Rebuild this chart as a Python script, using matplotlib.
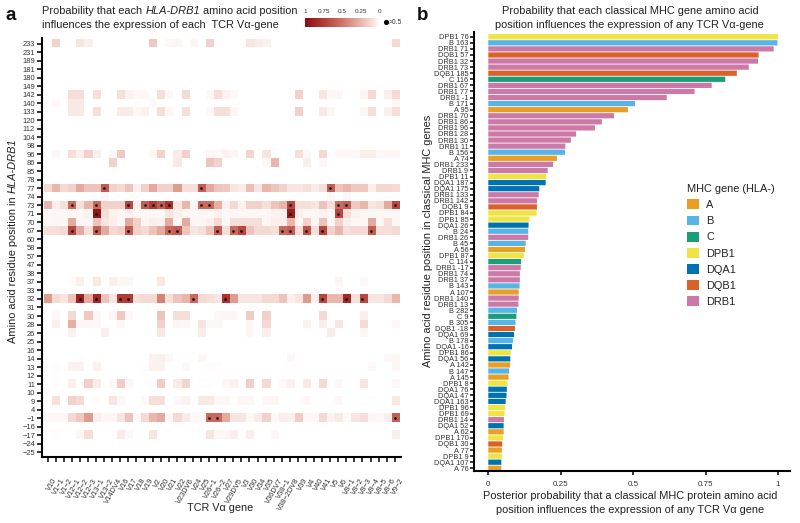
import numpy as np
import matplotlib
matplotlib.use("Agg")
import matplotlib.pyplot as plt
from matplotlib.colors import LinearSegmentedColormap
from matplotlib.patches import Patch
from matplotlib.transforms import ScaledTranslation

plt.rcParams['font.family'] = ['Liberation Sans', 'DejaVu Sans']

row_labels = ["233","231","189","181","180","149","142","140","133","120","112","104","98","96","86","85","78","77","74","73","71","70","67","60","58","57","47","38","37","33","32","31","30","28","26","25","16","14","13","12","11","10","9","4","-1","-16","-17","-24","-25"]
col_labels = ["V10","V1-1","V1-2","V12-1","V12-2","V12-3","V13-1","V13-2","V14DV4","V16","V17","V18","V19","V2","V20","V21","V22","V23DV6","V24","V25","V26-1","V26-2","V27","V29DV5","V3","V30","V34","V35","V36DV7","V38-1","V38-2DV8","V39","V4","V40","V41","V5","V6","V8-1","V8-2","V8-3","V8-4","V8-5","V8-6","V9-2"]

# Dense rows: one value per TCR gene
row_77 = [.12,.25,.12,.15,.30,.20,.20,.62,.15,.12,.20,.05,.15,.30,.15,.15,.35,.10,.10,.60,.30,.20,.18,.08,.06,.22,.08,.25,.20,.15,.08,.08,.10,.06,.10,.60,.20,.25,.18,.18,.05,.13,.13,.12]
row_73 = [.25,.05,.10,.55,.10,.25,.55,.15,.15,.15,.70,.05,.60,.75,.60,.80,.08,.25,.03,.55,.55,.28,.05,.12,.04,.15,.15,.10,.20,.25,.70,.10,.10,.08,.20,.10,.55,.60,.18,.25,.08,.10,.30,.70]
row_71 = [.02,.03,.02,.03,.03,.04,.95,.10,.04,.03,.05,.03,.02,.03,.03,.08,.05,.03,.03,.03,.03,.05,.02,.03,.02,.03,.03,.03,.04,.04,.90,.05,.03,.03,.04,.03,.70,.10,.04,.03,.03,.03,.03,.03]
row_70 = [.02,.03,.03,.30,.03,.03,.20,.08,.05,.03,.30,.15,.03,.05,.04,.30,.03,.30,.03,.03,.05,.12,.03,.10,.10,.10,.10,.03,.05,.05,.25,.03,.15,.03,.20,.03,.15,.05,.03,.03,.30,.03,.10,.03]
row_67 = [.10,.10,.12,.70,.30,.10,.60,.30,.12,.15,.60,.15,.12,.20,.30,.55,.60,.20,.08,.10,.20,.60,.10,.55,.70,.20,.12,.12,.10,.55,.60,.10,.65,.10,.70,.15,.25,.10,.12,.12,.60,.10,.10,.12]
row_32 = [.35,.12,.08,.20,.90,.30,.85,.20,.08,.75,.75,.10,.12,.12,.45,.10,.20,.25,.55,.12,.10,.08,.80,.35,.08,.08,.08,.12,.12,.20,.05,.08,.35,.05,.70,.25,.25,.85,.10,.70,.08,.08,.12,.25]
row_m1 = [.02,.02,.02,.12,.18,.35,.05,.03,.03,.08,.20,.02,.12,.25,.30,.02,.12,.06,.02,.02,.55,.55,.30,.08,.08,.03,.06,.15,.02,.05,.05,.17,.02,.02,.12,.04,.07,.02,.08,.10,.03,.02,.05,.60]
# Sparse rows: gene -> value
row_233 = {"V1-1":.15,"V12-2":.08,"V12-3":.05,"V2":.18,"V21":.02,"V22":.03,"V24":.03,"V26-1":.15,"V30":.08,"V34":.06,"V35":.04,"V9-2":.12}
row_142 = {"V12-1":.10,"V12-2":.10,"V13-1":.10,"V16":.10,"V17":.04,"V18":.02,"V19":.02,"V20":.10,"V21":.02,"V23DV6":.12,"V26-1":.03,"V26-2":.10,"V27":.04,"V29DV5":.02,"V39":.15,"V41":.08,"V5":.03,"V6":.02,"V8-3":.03,"V8-4":.12,"V8-6":.05,"V9-2":.12}
row_140 = {"V1-1":.02,"V12-1":.07,"V12-2":.07,"V18":.01,"V2":.02,"V9-2":.03}
row_133 = {"V12-1":.07,"V12-2":.07,"V13-1":.10,"V16":.06,"V17":.06,"V18":.03,"V19":.04,"V20":.10,"V21":.03,"V23DV6":.10,"V26-1":.02,"V26-2":.10,"V27":.10,"V29DV5":.03,"V39":.15,"V41":.07,"V5":.03,"V8-3":.03,"V8-4":.10,"V8-6":.05,"V9-2":.10}
row_96 = {"V1-1":.02,"V12-1":.10,"V12-2":.05,"V12-3":.15,"V13-1":.05,"V14DV4":.02,"V16":.18,"V2":.03,"V20":.15,"V22":.06,"V23DV6":.15,"V26-1":.03,"V26-2":.02,"V27":.04,"V29DV5":.03,"V30":.14,"V35":.08,"V39":.10,"V4":.02,"V41":.12,"V6":.02,"V8-1":.02,"V8-2":.02,"V8-3":.05,"V8-4":.05,"V8-5":.02,"V8-6":.03,"V9-2":.03}
row_86 = {"V14DV4":.15,"V16":.01,"V22":.07,"V26-1":.20,"V26-2":.15,"V35":.02,"V36DV7":.25,"V4":.05,"V41":.02}
row_74 = {"V13-2":.03,"V5":.02,"V8-1":.02}
row_37 = {"V12-1":.01,"V12-2":.05,"V13-1":.07,"V14DV4":.05,"V16":.03,"V17":.03,"V20":.07,"V6":.03,"V8-3":.02}
row_30 = {"V1-1":.02,"V12-1":.12,"V12-3":.18,"V13-1":.03,"V14DV4":.03,"V16":.18,"V17":.02,"V20":.20,"V22":.10,"V23DV6":.10,"V26-2":.02,"V27":.03,"V29DV5":.03,"V30":.17,"V35":.15,"V41":.12,"V8-3":.05}
row_28 = {"V1-1":.05,"V12-1":.28,"V12-2":.03,"V12-3":.03,"V13-1":.02,"V16":.03,"V20":.15,"V22":.03,"V23DV6":.02,"V25":.08,"V26-1":.02,"V26-2":.02,"V30":.03,"V35":.12,"V4":.04,"V41":.05,"V6":.08,"V8-3":.12,"V9-2":.02}
row_26 = {"V12-1":.04,"V13-2":.05,"V20":.07,"V25":.06,"V30":.03,"V35":.05,"V5":.06,"V8-3":.02}
row_14 = {"V12-2":.01,"V2":.04,"V20":.05,"V21":.03,"V25":.03,"V38-2DV8":.02,"V8-6":.02,"V9-2":.03}
row_13 = {"V1-1":.01,"V12-1":.04,"V12-2":.04,"V13-1":.04,"V19":.01,"V2":.04,"V20":.04,"V23DV6":.02,"V26-1":.01,"V26-2":.01,"V39":.01,"V8-4":.02,"V9-2":.03}
row_11 = {"V1-1":.01,"V12-1":.05,"V12-3":.15,"V13-1":.06,"V14DV4":.03,"V16":.17,"V17":.02,"V2":.01,"V20":.17,"V22":.06,"V23DV6":.14,"V25":.01,"V26-1":.01,"V27":.02,"V29DV5":.04,"V30":.16,"V35":.12,"V38-1":.02,"V38-2DV8":.04,"V4":.07,"V41":.12,"V6":.02,"V8-3":.08,"V9-2":.02}
row_9 = {"V1-1":.10,"V12-1":.15,"V12-2":.12,"V13-1":.01,"V14DV4":.08,"V16":.02,"V19":.02,"V2":.10,"V20":.10,"V22":.02,"V23DV6":.04,"V25":.07,"V26-1":.07,"V26-2":.03,"V27":.02,"V29DV5":.01,"V3":.03,"V30":.02,"V35":.03,"V36DV7":.03,"V4":.02,"V6":.02,"V8-4":.01,"V9-2":.07}
row_m17 = {"V1-1":.01,"V12-2":.03,"V12-3":.10,"V16":.06,"V17":.02,"V2":.08,"V26-1":.08,"V26-2":.03,"V27":.03,"V29DV5":.05,"V30":.05,"V36DV7":.02,"V9-2":.05}

heat_rows = {"233":row_233,"142":row_142,"140":row_140,"133":row_133,"96":row_96,"86":row_86,"77":row_77,"74":row_74,"73":row_73,"71":row_71,"70":row_70,"67":row_67,"37":row_37,"32":row_32,"30":row_30,"28":row_28,"26":row_26,"14":row_14,"13":row_13,"11":row_11,"9":row_9,"-1":row_m1,"-17":row_m17}

bar_labels = ["DPB1 76","B 163","DRB1 71","DQB1 57","DRB1 32","DRB1 73","DQB1 185","C 116","DRB1 67","DRB1 77","DRB1 -1","B 171","A 95","DRB1 70","DRB1 86","DRB1 96","DRB1 28","DRB1 30","DRB1 11","B 156","A 74","DRB1 233","DRB1 9","DPB1 11","DQA1 187","DQA1 175","DRB1 133","DRB1 142","DQB1 9","DPB1 84","DPB1 85","DQA1 26","B 24","DRB1 26","B 45","A 56","DPB1 87","C 114","DRB1 -17","DRB1 74","DRB1 37","B 143","A 107","DRB1 140","DRB1 13","B 282","C 9","B 305","DQB1 -18","DQA1 69","B 178","DQA1 -16","DPB1 86","DQA1 56","A 142","B 147","A 145","DPB1 8","DQA1 76","DQA1 47","DQA1 163","DPB1 96","DPB1 69","DRB1 14","DQA1 52","A 62","DPB1 170","DQB1 30","A 77","DPB1 9","DQA1 107","A 76"]
bar_values = [1.0,.998,.985,.933,.931,.899,.858,.818,.771,.712,.616,.506,.482,.434,.392,.368,.303,.285,.266,.265,.237,.224,.205,.200,.198,.176,.174,.168,.168,.167,.142,.139,.138,.138,.129,.127,.123,.113,.112,.109,.109,.108,.105,.105,.104,.099,.097,.094,.092,.089,.085,.082,.078,.076,.075,.072,.070,.066,.064,.063,.060,.058,.056,.054,.053,.053,.051,.048,.047,.047,.045,.045]
gene_names = ["A","B","C","DPB1","DQA1","DQB1","DRB1"]
gene_colors = ["#E89F23","#56B4E9","#1A9E77","#F0E442","#0072B2","#D9622B","#CC79A7"]
bar_ticks = [0,.25,.5,.75,1]
bar_tick_labels = ["0","0.25","0.5","0.75","1"]
cbar_ticks = [1,.75,.5,.25,0]
cbar_tick_labels = ["1","0.75","0.5","0.25","0"]

W, H = 800, 523
fig = plt.figure(figsize=(8, 5.23), dpi=100)
def add_ax(x0, y0, x1, y1):
    return fig.add_axes([x0/W, 1-y1/H, (x1-x0)/W, (y1-y0)/H])
def fx(x): return x/W
def fy(y): return 1-y/H

def runs(x, y, parts, size, color="#222222", rotation=0):
    """Place text pieces one after the other, in figure pixels."""
    r = fig.canvas.get_renderer()
    space = size*0.278*100/72
    for s, style in parts:
        t = fig.text(fx(x), fy(y), s.strip(), fontsize=size, style=style, color=color, rotation=rotation,
                     ha='left' if rotation == 0 else 'center', va='center' if rotation == 0 else 'bottom',
                     rotation_mode='anchor' if rotation == 0 else 'default')
        e = t.get_window_extent(r)
        adv = (e.width if rotation == 0 else e.height) + space
        if rotation == 0:
            x += adv
        else:
            y -= adv

# ---------- panel a
cmap = LinearSegmentedColormap.from_list("r", [(0,"#ffffff"),(.1,"#f6dfd9"),(.25,"#e9b7ac"),(.5,"#cf7569"),(.75,"#b23d37"),(1,"#8a0c14")])
heat = np.zeros((len(row_labels), len(col_labels)))
for rk, vals in heat_rows.items():
    i = row_labels.index(rk)
    if isinstance(vals, dict):
        for g, v in vals.items():
            heat[i, col_labels.index(g)] = v
    else:
        heat[i, :] = vals

ax = add_ax(42, 38, 400.7, 457)
xs = np.arange(len(col_labels)); ys = np.arange(len(row_labels))
ax.imshow(heat, cmap=cmap, vmin=0, vmax=1, aspect='auto', interpolation='bilinear' if False else 'nearest')
yy, xx = np.where(heat > .5)
ax.scatter(xs[xx], ys[yy], s=3.5, c='black', linewidths=0, zorder=3)
ax.set_xlim(-0.7, 43.74); ax.set_ylim(48.57, -0.67)
ax.set_xticks(xs)
ax.set_xticklabels([s.replace("-", "\u2212") for s in col_labels], rotation=60, ha='right', rotation_mode='anchor', fontsize=5.4, color="#333333")
ax.set_yticks(ys); ax.set_yticklabels([s.replace("-", "\u2212") for s in row_labels], fontsize=5.4, color="#333333")
ax.tick_params(axis='both', length=3.5, width=1.1, pad=1.5)
ax.tick_params(axis='x', pad=11)
shift = ScaledTranslation(5/100, 0, fig.dpi_scale_trans)
for lab in ax.get_xticklabels():
    lab.set_transform(lab.get_transform() + shift)
for s in ('top', 'right'): ax.spines[s].set_visible(False)
for s in ('left', 'bottom'): ax.spines[s].set_linewidth(1.5)

fig.text(fx(11), fy(15), "a", fontsize=13.5, fontweight='bold', ha='center', va='center', color="#111111")
runs(42, 11, [("Probability that each ", "normal"), ("HLA-DRB1", "italic"), (" amino acid position", "normal")], 7.95)
runs(42, 25, [("influences the expression of each  TCR V\u03b1-gene", "normal")], 7.95)
fig.text(fx(220), fy(508), "TCR V\u03b1 gene", fontsize=7.8, ha='center', va='center', color="#222222")
runs(13, 343, [("Amino acid residue position in ", "normal"), ("HLA-DRB1", "italic")], 7.95, rotation=90)

# colour scale
cax = add_ax(305, 17.7, 380, 27.3)
cax.imshow(np.linspace(1, 0, 200)[None, :], cmap=cmap, vmin=0, vmax=1, aspect='auto', extent=[1, 0, 0, 1])
cax.set_xlim(1, 0); cax.set_yticks([])
cax.xaxis.tick_top()
cax.set_xticks(cbar_ticks); cax.set_xticklabels(cbar_tick_labels, fontsize=4.6, color="#333333")
cax.tick_params(axis='x', length=0, pad=2.5)
for s in cax.spines.values(): s.set_visible(False)
lax = add_ax(381, 17.7, 400, 27.3); lax.axis('off'); lax.set_xlim(0, 19); lax.set_ylim(0, 1)
lax.scatter([5], [.5], s=14, c='black', linewidths=0)
lax.text(8, .5, ">0.5", fontsize=4.8, va='center', color="#333333")

# ---------- panel b
bx = add_ax(474, 32, 790, 471)
pos = np.arange(len(bar_labels))
cols = [gene_colors[gene_names.index(l.split()[0])] for l in bar_labels]
bars = bx.barh(pos, bar_values, height=.86, color=cols, linewidth=0)
for b in bars:
    b.set_snap(False)
bx.set_xlim(-.0493, 1.0414)
bx.set_ylim(71.45, -0.78)
bx.set_yticks(pos); bx.set_yticklabels(bar_labels, fontsize=5.3, color="#333333")
bx.set_xticks(bar_ticks); bx.set_xticklabels(bar_tick_labels, fontsize=5.8, color="#333333")
bx.tick_params(axis='y', length=3, width=1.1, pad=1)
bx.tick_params(axis='x', length=3, width=1.1, pad=4)
for s in ('top', 'right'): bx.spines[s].set_visible(False)
for s in ('left', 'bottom'): bx.spines[s].set_linewidth(1.5)

fig.text(fx(423), fy(15), "b", fontsize=13.5, fontweight='bold', ha='center', va='center', color="#111111")
fig.text(fx(630), fy(11), "Probability that each classical MHC gene amino acid", fontsize=7.95, ha='center', va='center', color="#222222")
fig.text(fx(629), fy(25), "position influences the expression of any TCR V\u03b1-gene", fontsize=7.95, ha='center', va='center', color="#222222")
fig.text(fx(630), fy(496), "Posterior probability that a classical MHC protein amino acid", fontsize=7.95, ha='center', va='center', color="#222222")
fig.text(fx(630), fy(510), "position influences the expression of any TCR V\u03b1 gene", fontsize=7.95, ha='center', va='center', color="#222222")
fig.text(fx(428), fy(241), "Amino acid residue position in classical MHC genes", fontsize=7.95, rotation=90, ha='center', va='center', color="#222222")

handles = [Patch(facecolor=c, edgecolor='none', label=n) for n, c in zip(gene_names, gene_colors)]
leg = fig.legend(handles=handles, title="MHC gene (HLA-)", loc='upper left', bbox_to_anchor=(fx(687), fy(184)),
                 frameon=False, fontsize=7.9, title_fontsize=7.9, borderaxespad=0, borderpad=0,
                 handlelength=1.05, handleheight=1.0, handletextpad=.7, labelspacing=.5)
leg._legend_box.align = "left"
leg.get_title().set_color("#222222")
for t in leg.get_texts(): t.set_color("#222222")

fig.savefig("out.png", dpi=100)
